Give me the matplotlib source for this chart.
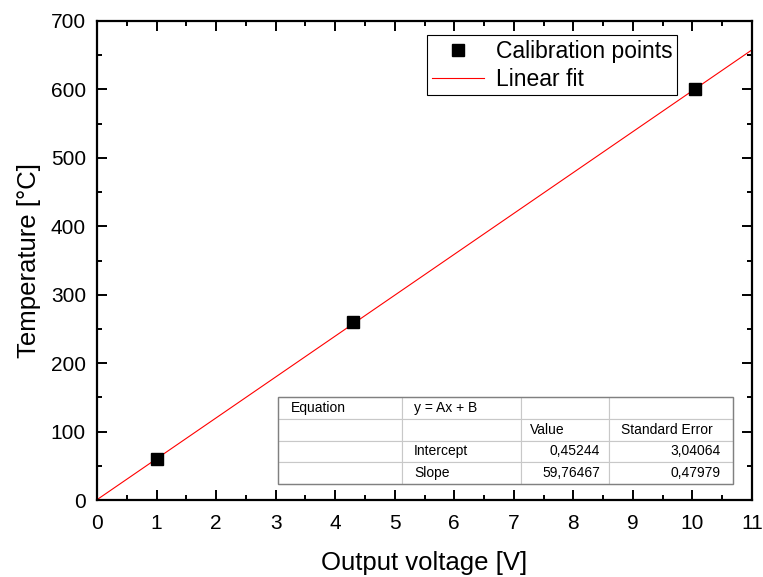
import numpy as np
import matplotlib.pyplot as plt
from matplotlib.ticker import MultipleLocator
from matplotlib.patches import Rectangle

plt.rcParams['font.family'] = ['Liberation Sans', 'DejaVu Sans']

# calibration data
volts = [1.0, 4.3, 10.05]
temps = [60, 260, 600]

# fit results
slope = 59.76467
intercept = 0.45244
fit_rows = [
	['Equation', 'y = Ax + B', '', ''],
	['', '', 'Value', 'Standard Error'],
	['', 'Intercept', '0,45244', '3,04064'],
	['', 'Slope', '59,76467', '0,47979'],
]

fig = plt.figure(figsize=(7.63, 5.77), dpi=100)
ax = fig.add_axes([97/763, 1-500/577, 655/763, 479/577])

xfit = np.linspace(0, 11, 2)
ax.plot(xfit, slope*xfit + intercept, color='red', lw=0.8, label='Linear fit', zorder=2)
ax.plot(volts, temps, 's', color='black', ms=8.5, label='Calibration points', zorder=3)

ax.set_xlim(0, 11)
ax.set_ylim(0, 700)
ax.xaxis.set_major_locator(MultipleLocator(1))
ax.xaxis.set_minor_locator(MultipleLocator(0.5))
ax.yaxis.set_major_locator(MultipleLocator(100))
ax.yaxis.set_minor_locator(MultipleLocator(50))
ax.tick_params(which='both', direction='in', top=True, right=True, width=1.4, labelsize=15)
ax.tick_params(which='major', length=7.5)
ax.tick_params(which='minor', length=3.8)
ax.tick_params(axis='x', pad=10)
ax.tick_params(axis='y', pad=8)
for s in ax.spines.values():
	s.set_linewidth(1.6)

ax.set_xlabel('Output voltage [V]', fontsize=18.5, labelpad=13)
ax.set_ylabel('Temperature [°C]', fontsize=18.5, labelpad=7)

h, l = ax.get_legend_handles_labels()
leg = ax.legend(h[::-1], l[::-1], loc='upper left', bbox_to_anchor=((427-97)/655, (500-35)/479),
	fontsize=16.5, frameon=True, fancybox=False, edgecolor='black', framealpha=1,
	handlelength=2.3, borderpad=0.2, labelspacing=0.22, handletextpad=0.5, borderaxespad=0)
leg.get_frame().set_linewidth(0.8)

# results table
tx0, tx1 = (278-97)/655, (733-97)/655
ty0, ty1 = (500-484)/479, (500-397)/479
tbl = ax.table(cellText=fit_rows, bbox=[tx0, ty0, tx1-tx0, ty1-ty0],
	colWidths=[124, 119, 88, 124], cellLoc='left', zorder=5)
tbl.auto_set_font_size(False)
tbl.set_fontsize(10)
for (r, c), cell in tbl.get_celld().items():
	cell.set_edgecolor('#c8c8c8')
	cell.set_linewidth(0.8)
	cell.set_facecolor('white')
	if r >= 2 and c >= 2:
		cell._loc = 'right'
		cell.get_text().set_ha('right')
ax.add_patch(Rectangle((tx0, ty0), tx1-tx0, ty1-ty0, transform=ax.transAxes,
	fill=False, edgecolor='#808080', lw=1.0, zorder=6))

fig.savefig('out.png', dpi=100)
